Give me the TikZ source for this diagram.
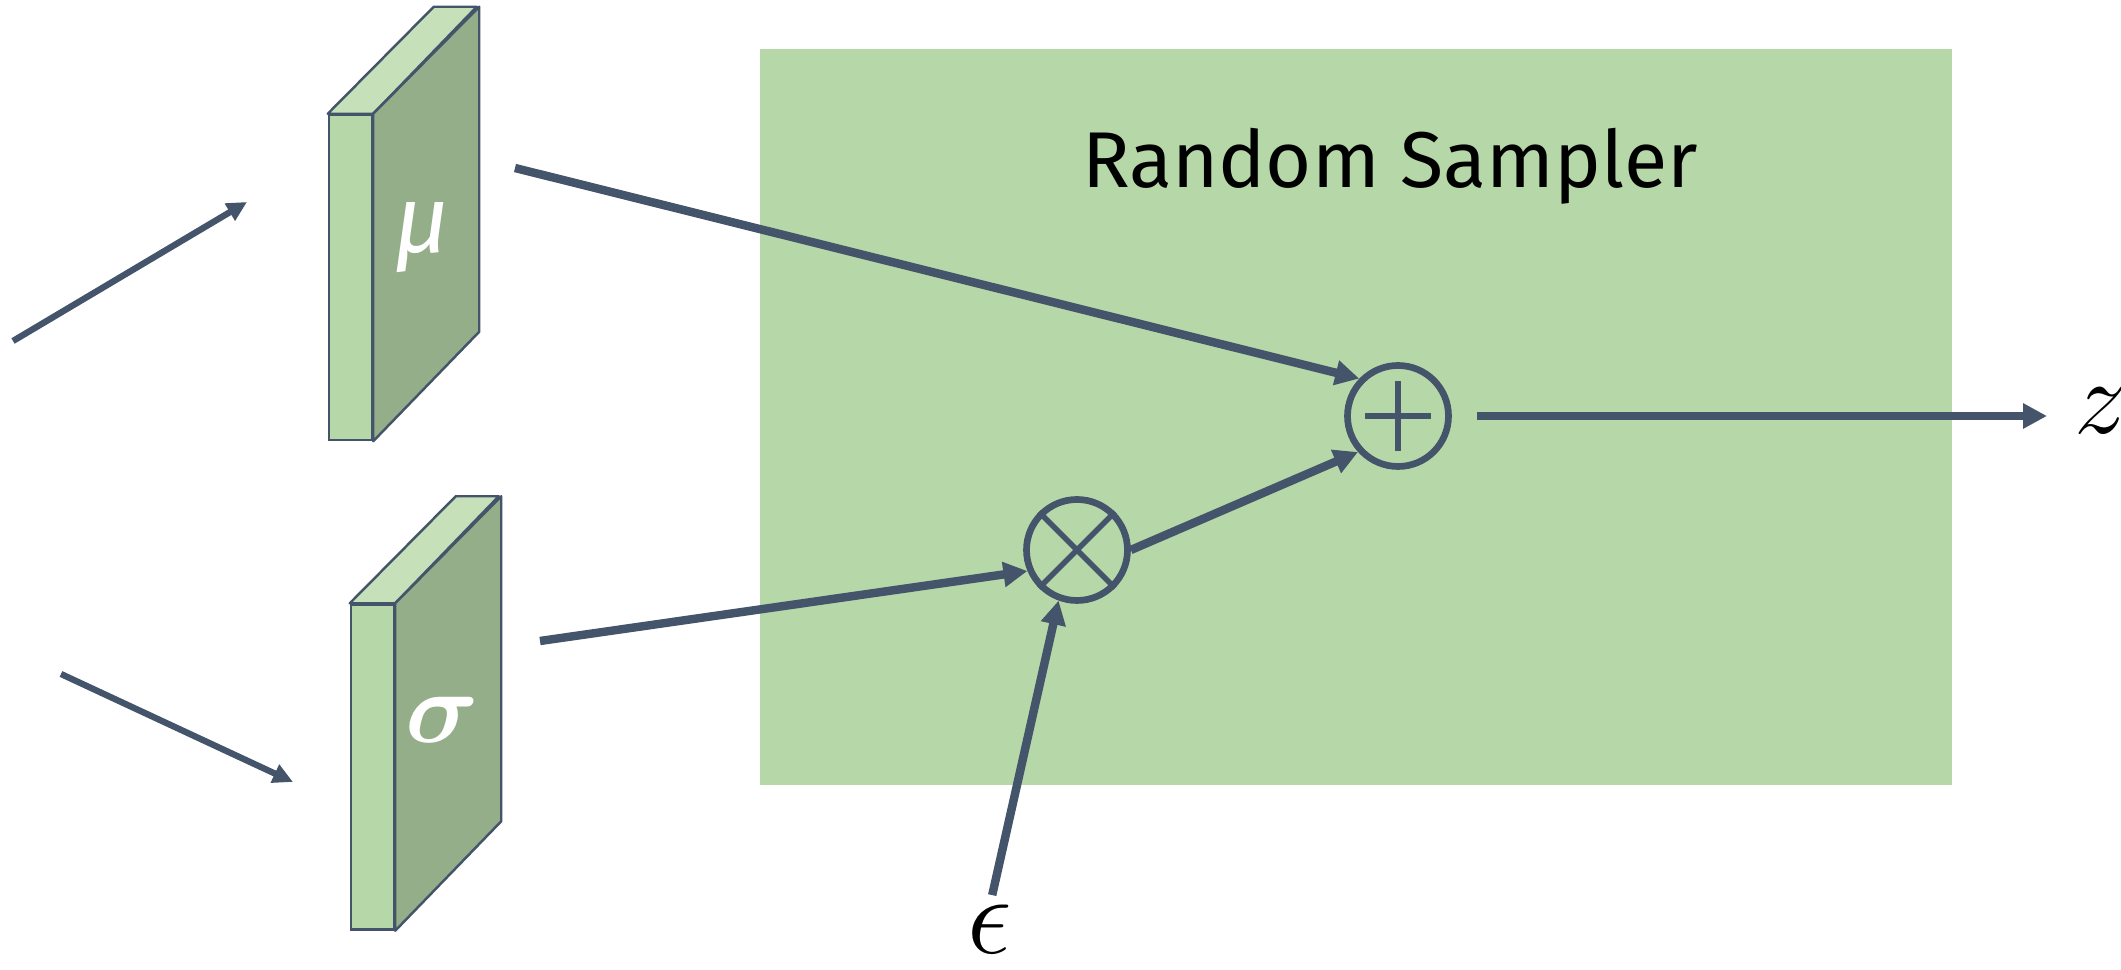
\RequirePackage{fix-cm}
\documentclass[tikz,border=0pt]{standalone}
\usepackage{amsmath,amssymb,bm}
\usepackage{fontspec}
\newfontfamily\boxfont{Fira Sans}
\usetikzlibrary{arrows.meta,positioning}
\definecolor{slate}{HTML}{44546A}
\definecolor{leaf}{HTML}{B6D7A8}
\definecolor{leaftop}{HTML}{C6E0B9}
\definecolor{leafside}{HTML}{93AE88}
\tikzstyle{front}=[draw=slate,fill=leaf,line width=0.7pt,minimum width=0.43cm,minimum height=3.25cm,inner sep=0]
\tikzstyle{topface}=[draw=slate,fill=leaftop,line width=0.7pt,line join=round]
\tikzstyle{sideface}=[draw=slate,fill=leafside,line width=0.7pt,line join=round]
\tikzstyle{op}=[circle,draw=slate,line width=1.9pt,minimum size=1.01cm,inner sep=0]
\tikzstyle{flow}=[draw=slate,line width=2.4pt,-{Triangle[length=0.24cm,width=0.24cm]}]
\tikzstyle{feed}=[draw=slate,line width=1.8pt,-{Triangle[length=0.2cm,width=0.19cm]}]

\begin{document}
\begin{tikzpicture}
  \useasboundingbox (0,0) rectangle (21.21,9.70);
  % sampler box
  \fill[leaf] (7.60,1.85) rectangle (19.52,9.21);
  \node[anchor=base,font=\boxfont\fontsize{22.5}{27}\selectfont] (title) at (13.90,7.82) {Random Sampler};

  % feature maps
  \node[front] (mu) at (3.505,6.925) {};
  \draw[topface] (mu.north west) -- ++(1.06,1.07) -- ++(0.43,0) -- (mu.north east) -- cycle;
  \draw[sideface] (mu.north east) -- ++(1.06,1.07) -- ++(0,-3.25) -- (mu.south east) -- cycle;
  \node[text=white,font=\boxfont\itshape\fontsize{27}{32}\selectfont] (mulabel) at (4.22,7.32) {μ};

  \node[front] (sigma) at (3.725,2.03) {};
  \draw[topface] (sigma.north west) -- ++(1.06,1.07) -- ++(0.43,0) -- (sigma.north east) -- cycle;
  \draw[sideface] (sigma.north east) -- ++(1.06,1.07) -- ++(0,-3.25) -- (sigma.south east) -- cycle;
  \node[text=white,font=\fontsize{29}{34}\selectfont] (sigmalabel) at (4.42,2.50) {$\boldsymbol{\sigma}$};

  % operators
  \node[op] (plus) at (13.98,5.54) {};
  \draw[slate,line width=1.6pt] ([xshift=-0.33cm]plus.center) -- ([xshift=0.33cm]plus.center)
    ([yshift=-0.35cm]plus.center) -- ([yshift=0.35cm]plus.center);
  \node[op] (times) at (10.77,4.20) {};
  \draw[slate,line width=1.6pt] (times.45) -- (times.225) (times.135) -- (times.315);

  \node[font=\fontsize{32}{38}\selectfont,inner sep=0,anchor=base] (eps) at (9.90,0.16) {$\epsilon$};
  \node[font=\fontsize{30}{36}\selectfont,inner sep=0,anchor=base west] (z) at (20.74,5.36) {$z$};

  \coordinate (inmu) at (0.13,6.29);
  \coordinate (inmuend) at (2.47,7.68);
  \coordinate (insig) at (0.61,2.96);
  \coordinate (insigend) at (2.93,1.88);
  \coordinate (muout) at (5.15,8.02);
  \coordinate (sigout) at (5.40,3.29);

  \draw[feed] (inmu) -- (inmuend);
  \draw[feed] (insig) -- (insigend);
  \draw[flow] (muout) -- (plus.136);
  \draw[flow] (sigout) -- (times.203);
  \draw[flow] (times.east) -- (plus.222);
  \draw[flow,shorten <=0.1cm] (eps.north) -- (times.250);
  \draw[flow,shorten <=0.25cm,shorten >=0.27cm] (plus.east) -- (plus.east -| z.west);
\end{tikzpicture}
\end{document}
